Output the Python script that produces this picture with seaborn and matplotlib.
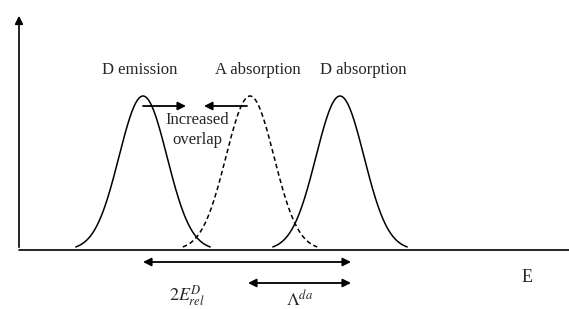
import numpy as np
import pandas as pd
import matplotlib
matplotlib.use("Agg")
import matplotlib.pyplot as plt
import seaborn as sns

# Band parameters (x in energy units, y in intensity units)
band_labels = ["D emission", "A absorption", "D absorption"]
band_centers = [143, 250, 340]
band_heights = [154, 154, 154]
band_sigmas = [24, 24, 24]
band_styles = ["-", "--", "-"]
band_label_x = [140, 258, 363]

# schematic gap arrows
overlap_arrows = [(143, 186), (247, 204)]
span_arrows = [(143, 351, -12, r"$2E^{D}_{rel}$", 187, -46),
               (248, 351, -33, r"$\Lambda^{da}$", 300, -50)]

sns.set_theme(style="white")
plt.rcParams["font.family"] = ["Liberation Serif", "DejaVu Serif"]
plt.rcParams["mathtext.fontset"] = "stix"

fig = plt.figure(figsize=(5.69, 3.09), dpi=100, facecolor="white")
ax = fig.add_axes([0, 0, 1, 1])
ax.set_xlim(0, 569)
ax.set_ylim(-59, 250)
ax.axis("off")

rows = []
for lab, c, h, s in zip(band_labels, band_centers, band_heights, band_sigmas):
    xs = np.linspace(c - 2.8 * s, c + 2.8 * s, 200)
    for x in xs:
        rows.append({"band": lab, "E": x, "I": h * np.exp(-0.5 * ((x - c) / s) ** 2)})
df = pd.DataFrame(rows)

for lab, ls in zip(band_labels, band_styles):
    sub = df[df["band"] == lab]
    kw = dict(dashes=(3, 2)) if ls == "--" else {}
    sns.lineplot(data=sub, x="E", y="I", ax=ax, color="black", lw=1.1,
                 legend=False, **kw)
    if ls == "--":
        ax.lines[-1].set_dashes((3, 2))

# axes of the sketch
ax.plot([19, 569], [0, 0], color="black", lw=1.2)
ax.annotate("", xy=(19, 237), xytext=(19, 0),
            arrowprops=dict(arrowstyle="-|>", color="black", lw=1.2, mutation_scale=12))

for lab, x in zip(band_labels, band_label_x):
    ax.text(x, 180, lab, ha="center", va="center", fontsize=12)

for x0, x1 in overlap_arrows:
    ax.annotate("", xy=(x1, 144), xytext=(x0, 144),
                arrowprops=dict(arrowstyle="-|>", color="black", lw=1.3, mutation_scale=12,
                                shrinkA=0, shrinkB=0))
ax.text(197, 120, "Increased\noverlap", ha="center", va="center", fontsize=12,
        linespacing=1.3)

for x0, x1, y, lab, lx, ly in span_arrows:
    ax.annotate("", xy=(x1, y), xytext=(x0, y),
                arrowprops=dict(arrowstyle="<|-|>", color="black", lw=1.3, mutation_scale=12,
                                shrinkA=0, shrinkB=0))
    ax.text(lx, ly, lab, ha="center", va="center", fontsize=13)

ax.text(527, -27, "E", ha="center", va="center", fontsize=13)

fig.savefig("out.png", dpi=100, facecolor="white")
